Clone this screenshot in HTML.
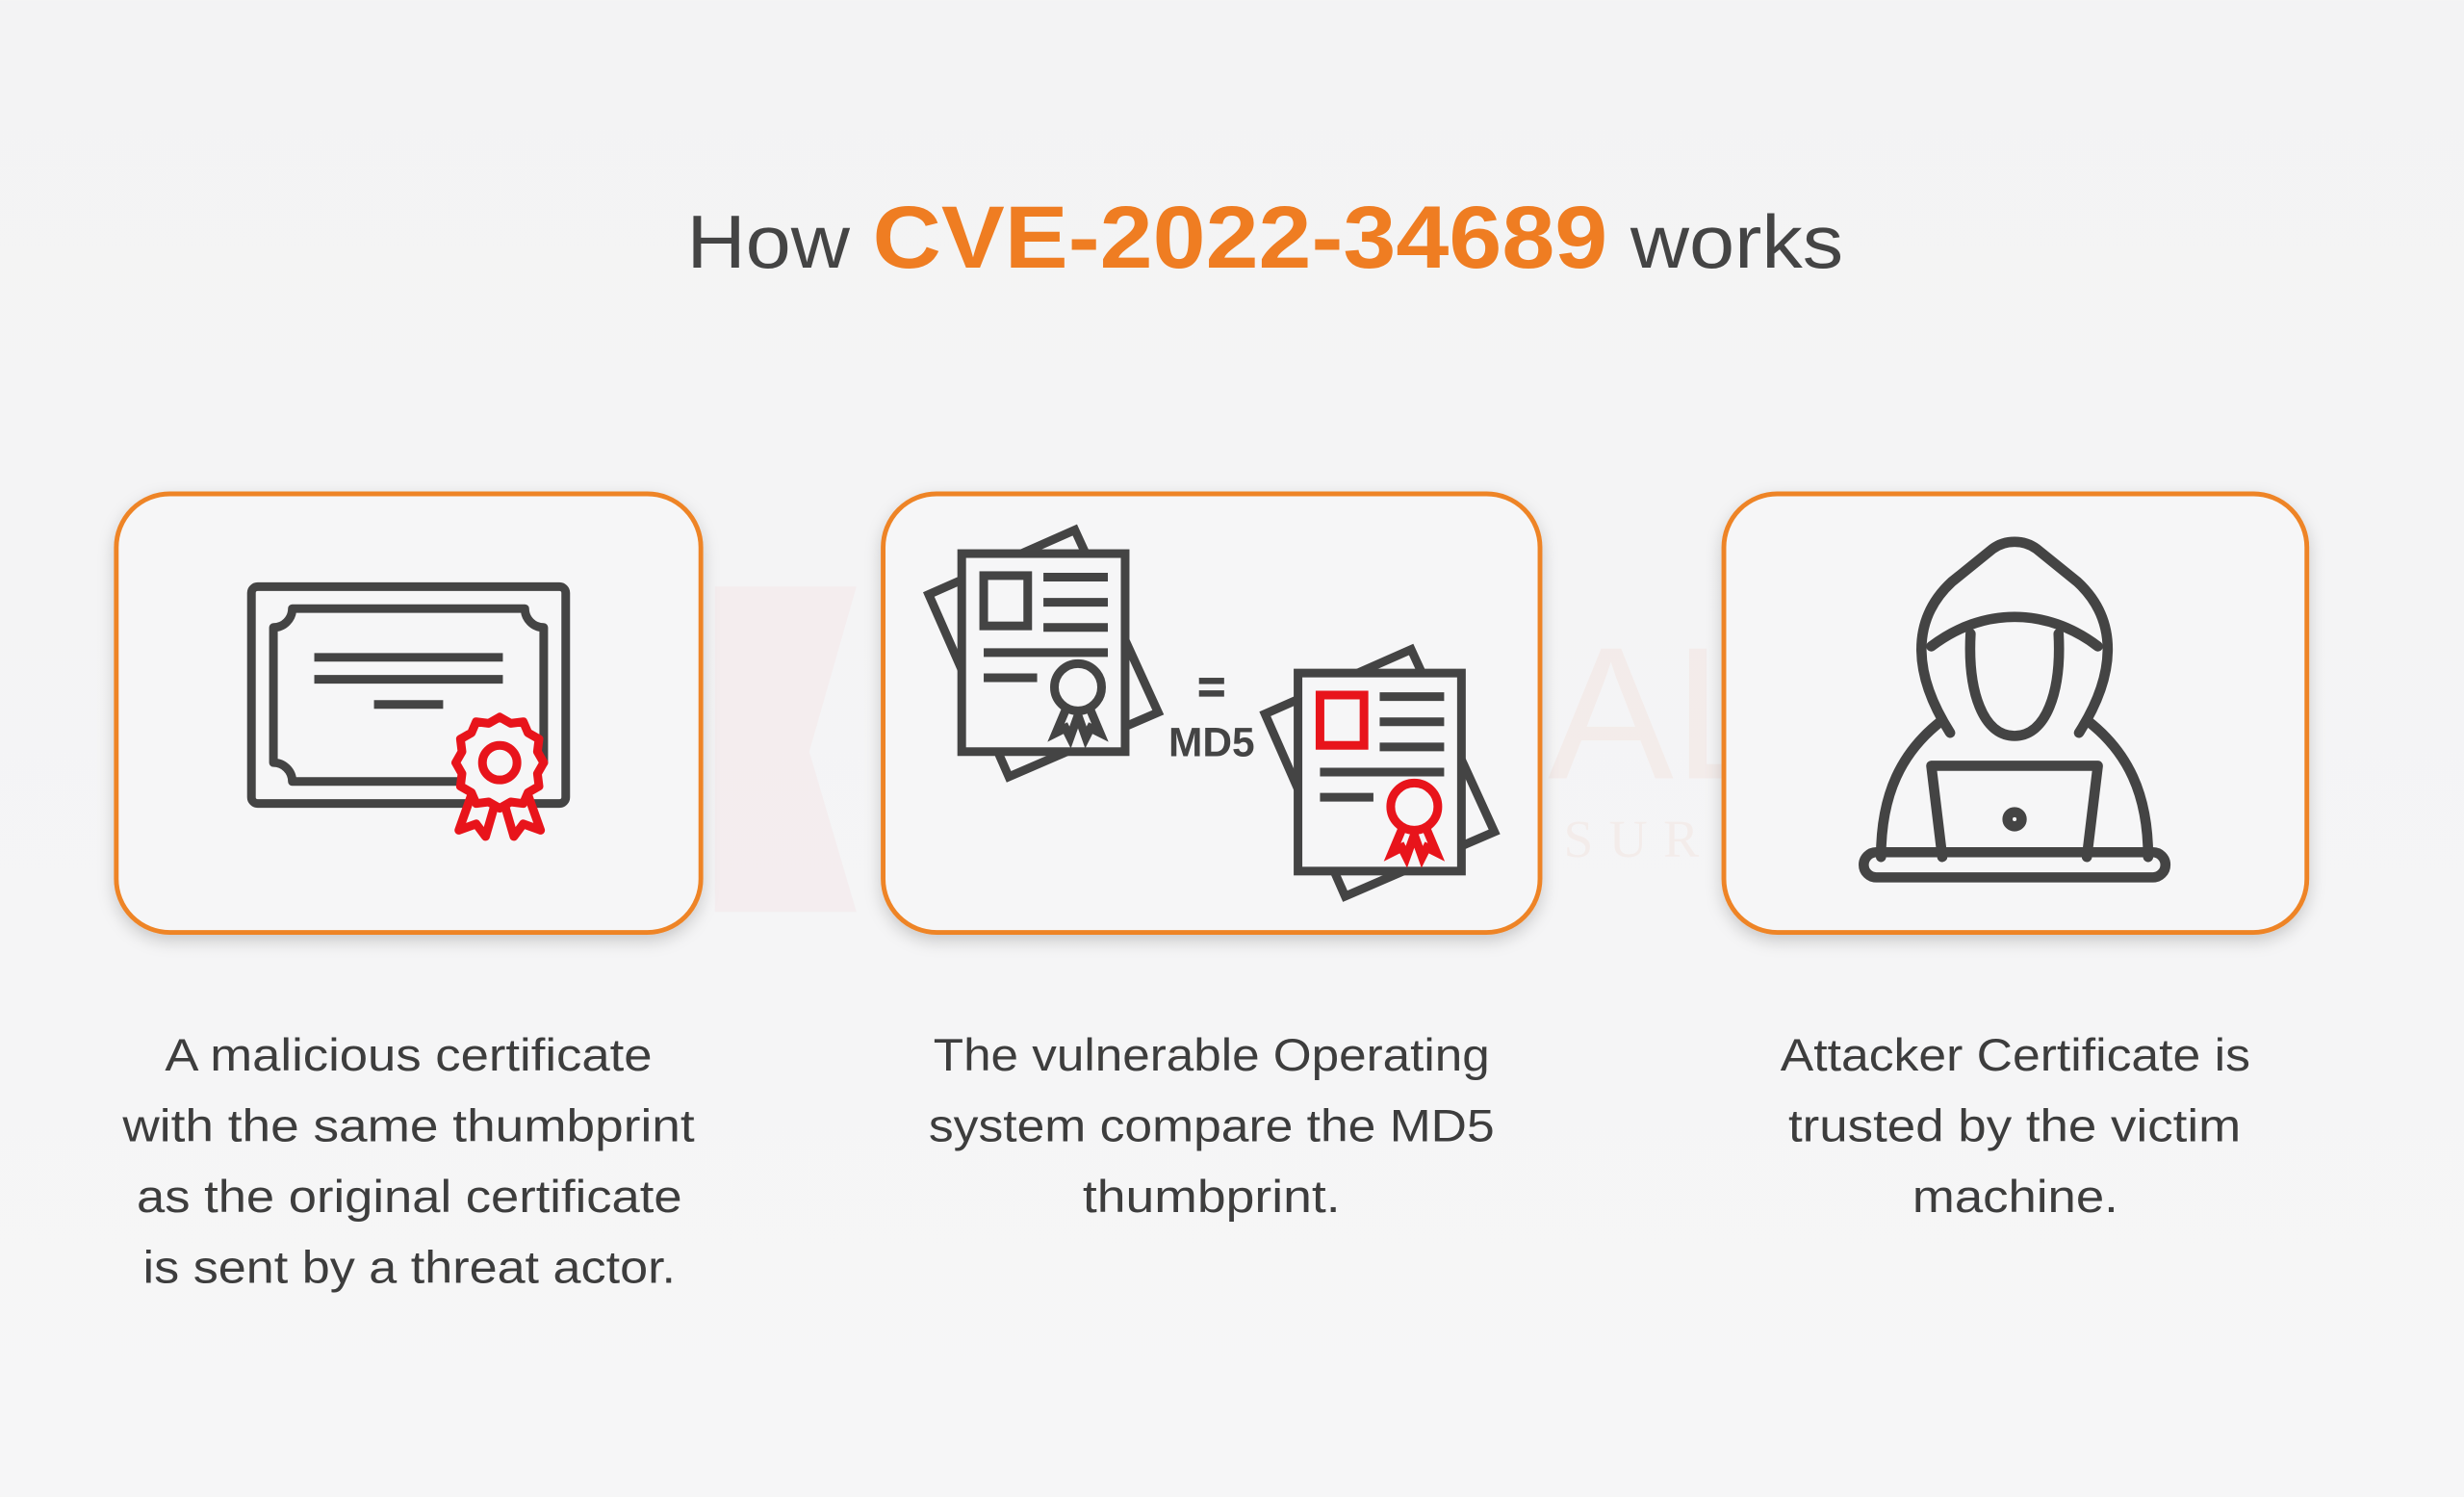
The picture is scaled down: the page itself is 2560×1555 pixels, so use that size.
<!DOCTYPE html>
<html><head><meta charset="utf-8"><style>
html,body{margin:0;padding:0;width:2560px;height:1555px;overflow:hidden;background:#f4f4f5;}
svg{display:block}
</style></head><body>
<svg width="2560" height="1555" viewBox="0 0 1568 952" xmlns="http://www.w3.org/2000/svg">
<defs>
<linearGradient id="bg" x1="0" y1="0" x2="0" y2="1"><stop offset="0" stop-color="#f3f3f4"/><stop offset="1" stop-color="#f6f6f7"/></linearGradient>
<filter id="sh" x="-10%" y="-10%" width="120%" height="125%"><feDropShadow dx="0" dy="4" stdDeviation="5" flood-color="#000" flood-opacity="0.18"/></filter>
</defs>
<rect width="1568" height="952" fill="url(#bg)"/>
<polygon points="455,373 545,373 515,478 545,580 455,580" fill="#f3d9dc" opacity="0.25"/>
<text x="985" y="495" font-family="Liberation Sans, sans-serif" font-size="120" fill="#f2dcd6" opacity="0.35">AL</text>
<text x="995" y="545" font-family="Liberation Serif, serif" font-size="34" letter-spacing="10" fill="#f2dcd6" opacity="0.35">SUR</text>

<text x="437" y="170" textLength="736" lengthAdjust="spacingAndGlyphs" font-family="Liberation Sans, sans-serif" font-size="48" fill="#444"><tspan>How </tspan><tspan font-weight="bold" fill="#ef7d22" font-size="56">CVE-2022-34689</tspan><tspan> works</tspan></text>

<g fill="#f6f6f7" stroke="#ee8427" stroke-width="3" filter="url(#sh)">
<rect x="74" y="314" width="372" height="279" rx="34"/>
<rect x="562" y="314" width="418" height="279" rx="34"/>
<rect x="1097" y="314" width="371" height="279" rx="34"/>
</g>

<g fill="none" stroke="#444" stroke-width="5.5" stroke-linejoin="round">
<rect x="160" y="373" width="200" height="138" rx="4"/>
<path d="M186,387 H334 A12,12 0 0 0 346,399 V485 A12,12 0 0 0 334,497 H186 A12,12 0 0 0 174,485 V399 A12,12 0 0 0 186,387 Z"/>
<line x1="200" y1="418" x2="320" y2="418"/>
<line x1="200" y1="432" x2="320" y2="432"/>
<line x1="238" y1="448" x2="282" y2="448"/>
</g>
<g fill="#f6f6f7" stroke="#e8141b" stroke-width="5.5" stroke-linejoin="round">
<path d="M302,500 L292,528 L303,524 L309,532 L316,508 M334,500 L344,528 L333,524 L327,532 L320,508"/>
<path d="M318,456 l7,4 8,-1 3,7 7,4 -1,8 4,7 -4,7 1,8 -7,4 -3,7 -8,-1 -7,4 -7,-4 -8,1 -3,-7 -7,-4 1,-8 -4,-7 4,-7 -1,-8 7,-4 3,-7 8,1z"/>
<circle cx="318" cy="485" r="11"/>
</g>

<g stroke="#444" stroke-width="5.5" stroke-linejoin="miter">
<polygon points="591,378 684,337 737,453 642,494" fill="#f6f6f7"/>
<rect x="612" y="352" width="104" height="126" fill="#f6f6f7"/>
<rect x="626" y="366" width="28" height="32" fill="none"/>
<g fill="none"><line x1="664" y1="367" x2="705" y2="367"/><line x1="664" y1="383" x2="705" y2="383"/><line x1="664" y1="399" x2="705" y2="399"/><line x1="626" y1="415" x2="705" y2="415"/><line x1="626" y1="431" x2="660" y2="431"/></g>
</g>
<g stroke="#444" stroke-width="5.5" fill="#f6f6f7"><path d="M680,447 L672,466 L678,463 L681,469 L686,455 L691,469 L694,463 L700,466 L692,447"/><circle cx="686" cy="437" r="15"/></g>
<g stroke="#444" stroke-width="5.5">
<polygon points="805,454 898,413 951,529 856,570" fill="#f6f6f7"/>
<rect x="826" y="428" width="104" height="126" fill="#f6f6f7"/>
<g fill="none"><line x1="878" y1="443" x2="919" y2="443"/><line x1="878" y1="459" x2="919" y2="459"/><line x1="878" y1="475" x2="919" y2="475"/><line x1="840" y1="491" x2="919" y2="491"/><line x1="840" y1="507" x2="874" y2="507"/></g>
</g>
<rect x="840" y="442" width="28" height="32" fill="none" stroke="#e8141b" stroke-width="5.5"/>
<g stroke="#e8141b" stroke-width="5.5" fill="#f6f6f7"><path d="M894,523 L886,542 L892,539 L895,545 L900,531 L905,545 L908,539 L914,542 L906,523"/><circle cx="900" cy="513" r="15"/></g>
<rect x="763" y="431" width="16" height="4" fill="#444"/><rect x="763" y="439" width="16" height="4" fill="#444"/>
<text x="771" y="481" text-anchor="middle" font-family="Liberation Sans, sans-serif" font-weight="bold" font-size="26" fill="#444">MD5</text>

<g fill="none" stroke="#444" stroke-width="6.5" stroke-linecap="round" stroke-linejoin="round">
<path d="M1241,466 C1218,430 1215,395 1242,370 L1268,349 C1276,343 1288,343 1296,349 L1322,370 C1349,395 1346,430 1323,466"/>
<path d="M1229,411 C1262,386 1302,386 1335,411"/>
<path d="M1254,403 C1252,440 1262,468 1282,468 C1302,468 1312,440 1310,403"/>
<path d="M1236,458 C1210,478 1197,505 1197,545"/>
<path d="M1328,458 C1354,478 1367,505 1367,545"/>
<path d="M1236,545 L1229,487 H1335 L1328,545"/>
<rect x="1186" y="542" width="192" height="16" rx="8"/>
<circle cx="1282" cy="521" r="4.5"/>
</g>

<g font-family="Liberation Sans, sans-serif" font-size="29" fill="#3d3d3d">
<text x="105" y="681" textLength="310" lengthAdjust="spacingAndGlyphs">A malicious certificate</text>
<text x="78" y="726" textLength="364" lengthAdjust="spacingAndGlyphs">with the same thumbprint</text>
<text x="87" y="771" textLength="347" lengthAdjust="spacingAndGlyphs">as the original certificate</text>
<text x="91" y="816" textLength="339" lengthAdjust="spacingAndGlyphs">is sent by a threat actor.</text>
<text x="594" y="681" textLength="354" lengthAdjust="spacingAndGlyphs">The vulnerable Operating</text>
<text x="591" y="726" textLength="360" lengthAdjust="spacingAndGlyphs">system compare the MD5</text>
<text x="689" y="771" textLength="164" lengthAdjust="spacingAndGlyphs">thumbprint.</text>
<text x="1133" y="681" textLength="299" lengthAdjust="spacingAndGlyphs">Attacker Certificate is</text>
<text x="1138" y="726" textLength="288" lengthAdjust="spacingAndGlyphs">trusted by the victim</text>
<text x="1217" y="771" textLength="131" lengthAdjust="spacingAndGlyphs">machine.</text>
</g>
</svg>
</body></html>
